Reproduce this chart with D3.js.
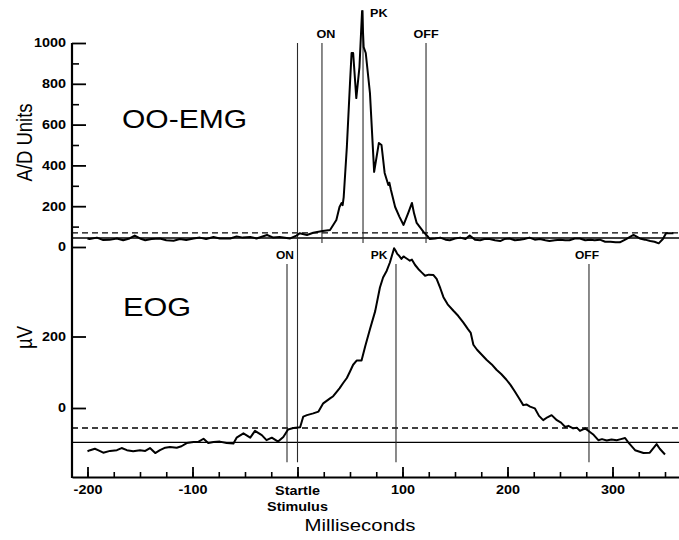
<!doctype html>
<html>

<head>
	<meta charset="utf-8">
	<script src="https://d3js.org/d3.v7.min.js" type="text/javascript"></script>
	<style>
		body { margin: 0; background: #fff; }
		text { font-family: "Liberation Sans", Arial, sans-serif; fill: #000; }
	</style>
</head>

<body>

	<div id="chart"></div>

	<script type="text/javascript">

		// ---- data ----

		// OO-EMG trace (ms, A/D units)
		const emgTime = [-200, -198, -191, -185, -179, -172, -166, -160, -155, -150, -145, -139, -131, -125, -118, -112,
			-106, -99, -93, -87, -80, -74, -64, -58, -52, -45, -39, -29, -23, -17, -7, -1, 2, 9, 15, 20, 24,
			31, 37, 40, 42, 43, 44, 47, 50, 51.5, 53, 56, 59, 61.5, 63, 65, 69, 73, 77.5, 80, 83, 86.5, 87.5, 89,
			93, 97, 101, 105.5, 109, 111, 113.5, 120, 124.5,
			126, 131, 136, 141, 145, 150, 155, 160, 164, 169, 174, 178, 183, 188, 193, 197, 202, 207, 212, 216,
			221, 226, 231, 236, 240, 245, 250, 255, 259, 264, 269, 274, 279, 283, 288, 293, 298, 303, 307, 313,
			320, 326, 331, 336, 340, 344, 348, 351, 358];
		const emgValue = [42, 39, 46, 34, 35, 42, 33, 42, 56, 42, 33, 39, 42, 33, 31, 39,
			34, 42, 46, 39, 49, 42, 42, 52, 46, 49, 42, 59, 46, 49, 42, 56, 67, 59, 70, 75, 78,
			83, 132, 196, 216, 205, 245, 490, 804, 951, 951, 730, 882, 1157, 980, 951, 755, 368, 510, 500, 363, 304, 315, 279,
			196, 149, 108, 167, 216, 165, 118, 74, 49,
			39, 42, 46, 36, 33, 42, 46, 39, 56, 36, 33, 39, 39, 33, 29, 39, 42, 33, 36, 39,
			46, 36, 39, 33, 29, 33, 36, 33, 33, 42, 42, 33, 36, 33, 36, 26, 26, 23, 23, 39,
			59, 42, 36, 29, 26, 18, 39, 67, 67];

		// EOG trace (ms, microvolts)
		const eogTime = [-200, -197.5, -193, -190, -185, -178.5, -172, -167.5, -162.5, -156.5, -150, -145, -140.5,
			-135.5, -131, -126, -121.5, -115, -110.5, -105.5, -99, -94.5, -89.5, -85, -80, -74, -67.5, -61, -58,
			-51.5, -45, -40.5, -34, -29.5, -24.5, -18.5, -13.5, -9, -4, 2.5, 5.5, 9, 15, 20, 24.5, 31, 34, 37.5, 40, 43.5,
			47, 50, 53, 56.5, 61, 64.5, 69, 74, 78.5, 81.5, 85, 88, 92, 93.5, 95, 97, 99, 101, 102.5, 105, 107, 109, 112, 115,
			118, 121.5, 125, 129.5, 132.5, 136, 139, 143, 148.5, 153, 158, 162.5, 165, 167.5, 171, 175.5, 180, 185,
			189.5, 194, 199, 203, 207, 211, 215, 218, 221.5, 226, 230, 234, 238, 242, 247, 251,
			255, 258, 262.5, 266, 269, 274, 278.5, 282, 286.5, 290, 294.5, 299, 304, 308, 312, 315, 321.5, 329.5, 335.5, 342,
			345, 350];
		const eogValue = [-121, -118, -114, -118, -125, -120, -118, -112, -118, -121, -118, -120, -112,
			-126, -118, -111, -109, -111, -107, -98, -95, -95, -86, -98, -95, -94, -98, -99, -83,
			-71, -83, -64, -76, -90, -83, -94, -81, -60, -56, -54, -24, -20, -15, -10, 13, 27, 33, 46, 55, 70,
			84, 102, 121, 133, 133, 173, 220, 271, 337, 365, 384, 407, 447, 440, 431, 425, 417, 424, 421, 416, 412, 415, 400, 389,
			380, 370, 373, 372, 361, 335, 310, 290, 272, 258, 239, 220, 210, 177, 163, 149, 135, 122,
			107, 95, 79, 64, 46, 27, 8, 10, 4, -1, -22, -34, -26, -20, -34, -41,
			-53, -50, -57, -55, -64, -57, -67, -75, -90, -87, -91, -88, -90, -87, -84, -96, -118, -126, -125, -101,
			-114, -130];

		// onset / peak / offset markers (ms)
		const emgMarkerLabels = ["ON", "PK", "OFF"];
		const emgMarkerTimes = [23.3, 62.4, 122.4];
		const eogMarkerLabels = ["ON", "PK", "OFF"];
		const eogMarkerTimes = [-10, 93.8, 277.6];

		// threshold lines: [dashed, solid]
		const emgThresholds = [69, 44];
		const eogThresholds = [-56, -96];

		// axis ticks
		const timeMajorTicks = [-200, -100, 0, 100, 200, 300];
		const timeMinorTicks = d3.range(-200, 351, 25);
		const emgMajorTicks = [0, 200, 400, 600, 800, 1000];
		const emgMinorTicks = [100, 300, 500, 700, 900];
		const eogMajorTicks = [0, 200];

		(function () {

			"use strict";

			const width = 679, height = 540;
			//the scanned figure is a little wider than it is tall, so text gets the same stretch
			const stretch = "scale(1.2,1)";

			const svg = d3.select("#chart").append("svg")
				.attr("width", width)
				.attr("height", height);

			//Shared time axis; the axis line runs from the left axis to the right edge
			const x = d3.scaleLinear().domain([-200, 300]).range([87.5, 612.5]);
			const xFull = x.copy().domain([x.invert(72), x.invert(679)]).range([72, 679]);

			//Two stacked panels that share one left axis line
			const yTop = d3.scaleLinear().domain([0, 1000]).range([247, 43]);
			const yBot = d3.scaleLinear().domain([0, 200]).range([408, 336.5]);
			const axisBottomY = 477;

			let addText = function (tx, ty, str, size, weight, anchor) {
				return svg.append("text")
					.attr("transform", "translate(" + tx + "," + ty + ") " + stretch)
					.attr("text-anchor", anchor || "start")
					.attr("font-size", size)
					.attr("font-weight", weight || "normal")
					.text(str);
			};

			// ---- threshold lines ----
			function thresholds(vals, y) {
				svg.append("line")
					.attr("x1", 72).attr("x2", 679)
					.attr("y1", y(vals[0])).attr("y2", y(vals[0]))
					.attr("stroke", "#000").attr("stroke-width", 1.3)
					.attr("stroke-dasharray", "6,4");
				svg.append("line")
					.attr("x1", 72).attr("x2", 679)
					.attr("y1", y(vals[1])).attr("y2", y(vals[1]))
					.attr("stroke", "#000").attr("stroke-width", 1.3);
			}
			thresholds(emgThresholds, yTop);
			thresholds(eogThresholds, yBot);

			// ---- vertical marker lines ----
			const markerStroke = "#2a2a2a";

			//stimulus line crosses both panels
			svg.append("line")
				.attr("x1", x(0)).attr("x2", x(0))
				.attr("y1", yTop(1000)).attr("y2", yBot(-152))
				.attr("stroke", markerStroke).attr("stroke-width", 1.1);

			emgMarkerTimes.forEach(function (t, i) {
				const top = emgMarkerLabels[i] === "PK" ? 1160 : 1000;
				svg.append("line")
					.attr("x1", x(t)).attr("x2", x(t))
					.attr("y1", yTop(top)).attr("y2", yTop(20))
					.attr("stroke", markerStroke).attr("stroke-width", 1.1);
			});
			eogMarkerTimes.forEach(function (t) {
				svg.append("line")
					.attr("x1", x(t)).attr("x2", x(t))
					.attr("y1", yBot(403)).attr("y2", yBot(-152))
					.attr("stroke", markerStroke).attr("stroke-width", 1.1);
			});

			//marker labels
			const emgLabelPos = [
				{ dx: 4, y: 38, anchor: "middle" },
				{ dx: 7, y: 17, anchor: "start" },
				{ dx: 0, y: 38, anchor: "middle" }
			];
			emgMarkerTimes.forEach(function (t, i) {
				addText(x(t) + emgLabelPos[i].dx, emgLabelPos[i].y, emgMarkerLabels[i], 10.5, "bold", emgLabelPos[i].anchor);
			});
			const eogLabelDx = [-2, -17, -2];
			eogMarkerTimes.forEach(function (t, i) {
				addText(x(t) + eogLabelDx[i], 259, eogMarkerLabels[i], 10, "bold", "middle");
			});

			// ---- traces ----
			const emgLine = d3.line()
				.x(function (d) { return x(d[0]); })
				.y(function (d) { return yTop(d[1]); });
			const eogLine = d3.line()
				.x(function (d) { return x(d[0]); })
				.y(function (d) { return yBot(d[1]); });

			svg.append("path")
				.datum(d3.zip(emgTime, emgValue))
				.attr("d", emgLine)
				.attr("fill", "none").attr("stroke", "#000")
				.attr("stroke-width", 2).attr("stroke-linejoin", "round");

			svg.append("path")
				.datum(d3.zip(eogTime, eogValue))
				.attr("d", eogLine)
				.attr("fill", "none").attr("stroke", "#000")
				.attr("stroke-width", 2).attr("stroke-linejoin", "round");

			// ---- axes ----
			let styleTickText = function (g) {
				g.selectAll("text")
					.attr("font-family", "Liberation Sans, Arial, sans-serif")
					.attr("font-size", 12).attr("font-weight", "bold")
					.attr("fill", "#000")
					.attr("transform", stretch);
			};

			//minor time ticks, pointing up
			svg.append("g")
				.attr("transform", "translate(0," + axisBottomY + ")")
				.call(d3.axisBottom(xFull).tickValues(timeMinorTicks).tickSizeInner(-5).tickSizeOuter(0).tickFormat(""))
				.call(function (g) { g.select(".domain").remove(); })
				.call(function (g) { g.selectAll(".tick line").attr("stroke-width", 1.6); });

			//major time ticks with labels
			svg.append("g")
				.attr("transform", "translate(0," + axisBottomY + ")")
				.call(d3.axisBottom(xFull).tickValues(timeMajorTicks).tickSizeInner(-10).tickSizeOuter(0).tickPadding(8)
					.tickFormat(function (d) { return d === 0 ? "" : d; }))
				.call(function (g) { g.select(".domain").attr("stroke-width", 2.2); })
				.call(function (g) { g.selectAll(".tick line").attr("stroke-width", 1.8); })
				.call(styleTickText);

			addText(x(0), 495, "Startle", 12, "bold", "middle");
			addText(x(0), 511, "Stimulus", 12, "bold", "middle");

			//left axis line shared by both panels
			svg.append("line")
				.attr("x1", 72).attr("x2", 72)
				.attr("y1", yTop(1000)).attr("y2", axisBottomY + 1)
				.attr("stroke", "#000").attr("stroke-width", 2.2);

			function leftAxis(scale, majors, minors) {
				if (minors.length) {
					svg.append("g")
						.attr("transform", "translate(72,0)")
						.call(d3.axisLeft(scale).tickValues(minors).tickSizeInner(-7).tickSizeOuter(0).tickFormat(""))
						.call(function (g) { g.select(".domain").remove(); })
						.call(function (g) { g.selectAll(".tick line").attr("stroke-width", 1.6); });
				}
				svg.append("g")
					.attr("transform", "translate(72,0)")
					.call(d3.axisLeft(scale).tickValues(majors).tickSizeInner(-14).tickSizeOuter(0).tickPadding(5)
						.tickFormat(d3.format("d")))
					.call(function (g) { g.select(".domain").remove(); })
					.call(function (g) { g.selectAll(".tick line").attr("stroke-width", 1.8); })
					.call(styleTickText);
			}
			leftAxis(yTop, emgMajorTicks, emgMinorTicks);
			leftAxis(yBot, eogMajorTicks, []);

			// ---- titles ----
			svg.append("text")
				.attr("transform", "translate(32,142.5) rotate(-90) scale(1,1.2)")
				.attr("text-anchor", "middle")
				.attr("font-size", 18.5)
				.text("A/D Units");
			svg.append("text")
				.attr("transform", "translate(32,337.5) rotate(-90) scale(1,1.2)")
				.attr("text-anchor", "middle")
				.attr("font-size", 18.5)
				.text("µV");

			addText(122, 128, "OO-EMG", 25);
			addText(123, 316, "EOG", 25.5);

			addText(360, 531, "Milliseconds", 17, "normal", "middle");

		})();

	</script>

</body>

</html>
